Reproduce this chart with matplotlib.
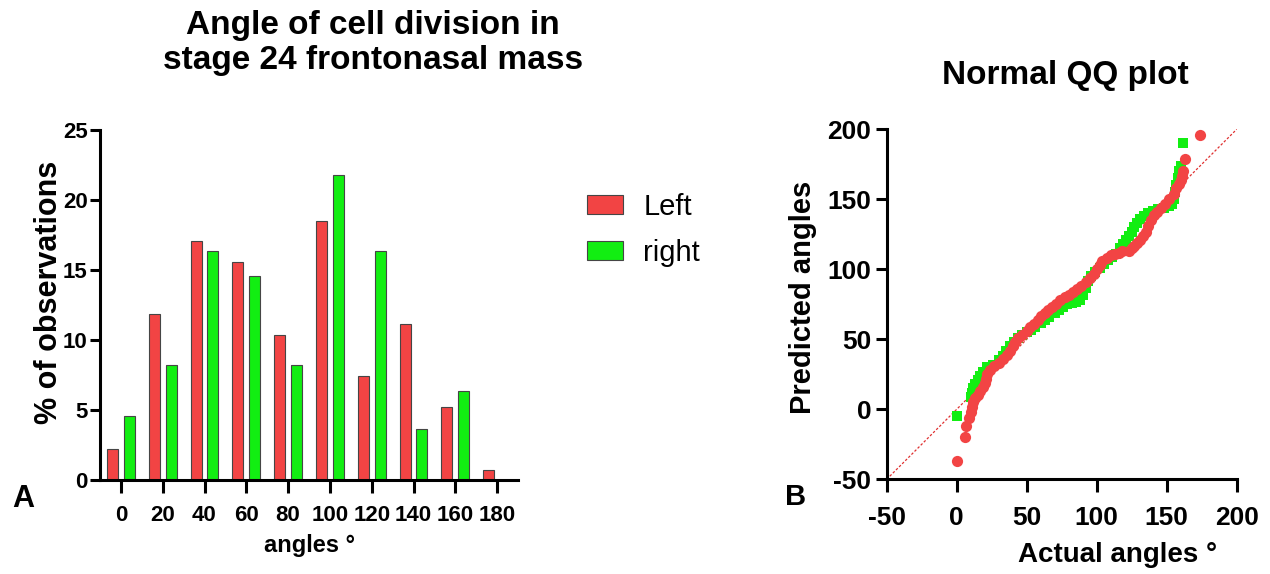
import matplotlib
matplotlib.use("Agg")
import matplotlib.pyplot as plt
import numpy as np

plt.rcParams['font.family'] = ['Liberation Sans', 'DejaVu Sans']
plt.rcParams['axes.unicode_minus'] = False

# histogram of division angles (% of observations per 20 degree bin)
bins = [0, 20, 40, 60, 80, 100, 120, 140, 160, 180]
left_pct = [2.22, 11.85, 17.04, 15.56, 10.37, 18.52, 7.41, 11.11, 5.19, 0.74]
right_pct = [4.55, 8.18, 16.36, 14.55, 8.18, 21.82, 16.36, 3.64, 6.36, 0.0]

# normal QQ plot: actual angle vs predicted angle
left_actual = [0, 6, 7, 9, 10, 11, 12, 13, 15, 17, 19, 20, 21, 22, 24, 27, 30, 33,
               36, 38, 40, 42, 44, 47, 50, 52, 55, 58, 60, 63, 65, 68, 71, 74, 77,
               80, 83, 86, 89, 92, 95, 98, 100, 102, 104, 107, 110, 113, 116, 118,
               123, 125, 127, 129, 131, 133, 135, 137, 139, 141, 143, 146, 149, 152,
               155, 157, 159, 160, 161, 162, 163, 174]
left_pred = [-37, -20, -12, -6, -2, 2, 5, 8, 10, 13, 16, 19, 22, 25, 28, 31, 33, 36,
             39, 42, 45, 48, 51, 53, 56, 59, 61, 64, 67, 69, 71, 73, 75, 78, 80,
             82, 84, 86, 88, 91, 94, 97, 100, 103, 106, 108, 110, 111, 112, 113,
             113, 115, 117, 119, 121, 124, 127, 131, 135, 139, 141, 144, 147, 150,
             154, 158, 161, 164, 167, 170, 179, 196]

right_actual = [0, 10, 11, 12, 13, 15, 17, 19, 22, 26, 30, 33, 35, 38, 41, 44, 47,
                50, 53, 56, 60, 63, 66, 70, 73, 76, 79, 82, 85, 88, 90, 92, 94, 96,
                99, 102, 105, 108, 111, 114, 117, 119, 121, 123, 125, 127, 129, 131,
                134, 137, 140, 144, 148, 152, 154, 155, 156, 157, 158, 159, 160, 162]
right_pred = [-5, 9, 12, 15, 18, 21, 24, 27, 30, 32, 35, 38, 42, 45, 48, 51, 53,
              55, 57, 59, 62, 64, 66, 69, 71, 73, 75, 76, 77, 78, 82, 87, 92, 95,
              98, 101, 104, 107, 109, 111, 115, 118, 121, 124, 127, 130, 133, 136,
              138, 140, 142, 143, 144, 145, 147, 150, 155, 160, 165, 170, 174, 190]

red = '#F24444'
green = '#12EE12'
edge = '#454545'

fig = plt.figure(figsize=(12.7, 5.74), dpi=100)

# ---- panel A: bar chart ----
ax1 = fig.add_axes([100 / 1270, 94 / 574, 418 / 1270, 350 / 574])
x = np.array(bins, dtype=float)
w = 5.3
ax1.bar(x - 4, left_pct, width=w, color=red, edgecolor=edge, linewidth=0.8, label='Left')
ax1.bar(x + 4, right_pct, width=w, color=green, edgecolor=edge, linewidth=0.8, label='right')
ax1.set_xlim(-10, 190)
ax1.set_ylim(0, 25)
ax1.set_xticks(bins)
ax1.set_yticks([0, 5, 10, 15, 20, 25])
ax1.spines[['top', 'right']].set_visible(False)
for s in ('left', 'bottom'):
    ax1.spines[s].set_linewidth(2.2)
ax1.tick_params(axis='x', length=9, width=2.2, pad=9, labelsize=16)
ax1.tick_params(axis='y', length=7, width=2.2, pad=2, labelsize=16)
for lab in ax1.get_xticklabels() + ax1.get_yticklabels():
    lab.set_fontweight('bold')
ax1.set_xlabel('angles °', fontsize=17, fontweight='bold')
ax1.xaxis.set_label_coords(0.5, -0.155)
ax1.set_ylabel('% of observations', fontsize=22, fontweight='bold')
ax1.yaxis.set_label_coords(-0.085, 0.535)
ax1.legend(loc='upper left', bbox_to_anchor=(587 / 1270, 1 - 193 / 574),
           bbox_transform=fig.transFigure, frameon=False, fontsize=21,
           handlelength=1.24, handleheight=0.62, handletextpad=0.69,
           labelspacing=0.62, borderpad=0, borderaxespad=0)

fig.text(373 / 1270, 1 - 34 / 574, 'Angle of cell division in', ha='center',
         va='baseline', fontsize=24, fontweight='bold')
fig.text(373 / 1270, 1 - 69 / 574, 'stage 24 frontonasal mass', ha='center',
         va='baseline', fontsize=24, fontweight='bold')
fig.text(12 / 1270, 1 - 507 / 574, 'A', ha='left', va='baseline',
         fontsize=22, fontweight='bold')

# ---- panel B: QQ plot ----
ax2 = fig.add_axes([886.7 / 1270, 94.7 / 574, 350 / 1270, 350 / 574])
ax2.plot([-50, 200], [-50, 200], ls=(0, (2, 1.5)), color='#E03030', lw=0.9, zorder=1)
ax2.scatter(right_actual, right_pred, marker='s', s=48, color=green, linewidths=0, zorder=2)
ax2.scatter(left_actual, left_pred, marker='o', s=65, color=red, linewidths=0, zorder=3)
ax2.set_xlim(-50, 200)
ax2.set_ylim(-50, 200)
ax2.set_xticks([-50, 0, 50, 100, 150, 200])
ax2.set_yticks([-50, 0, 50, 100, 150, 200])
ax2.spines[['top', 'right']].set_visible(False)
for s in ('left', 'bottom'):
    ax2.spines[s].set_linewidth(2.2)
ax2.tick_params(axis='x', length=9, width=2.2, pad=10, labelsize=19)
ax2.tick_params(axis='y', length=8, width=2.2, pad=3, labelsize=19)
for lab in ax2.get_xticklabels() + ax2.get_yticklabels():
    lab.set_fontweight('bold')
ax2.set_xlabel('Actual angles °', fontsize=20, fontweight='bold')
ax2.xaxis.set_label_coords(0.66, -0.18)
ax2.set_ylabel('Predicted angles', fontsize=21, fontweight='bold')
ax2.yaxis.set_label_coords(-0.2, 0.52)
fig.text(1065 / 1270, 1 - 84 / 574, 'Normal QQ plot', ha='center', va='baseline',
         fontsize=24, fontweight='bold')
fig.text(785 / 1270, 1 - 505 / 574, 'B', ha='left', va='baseline',
         fontsize=21, fontweight='bold')

fig.savefig('out.png', dpi=100)
